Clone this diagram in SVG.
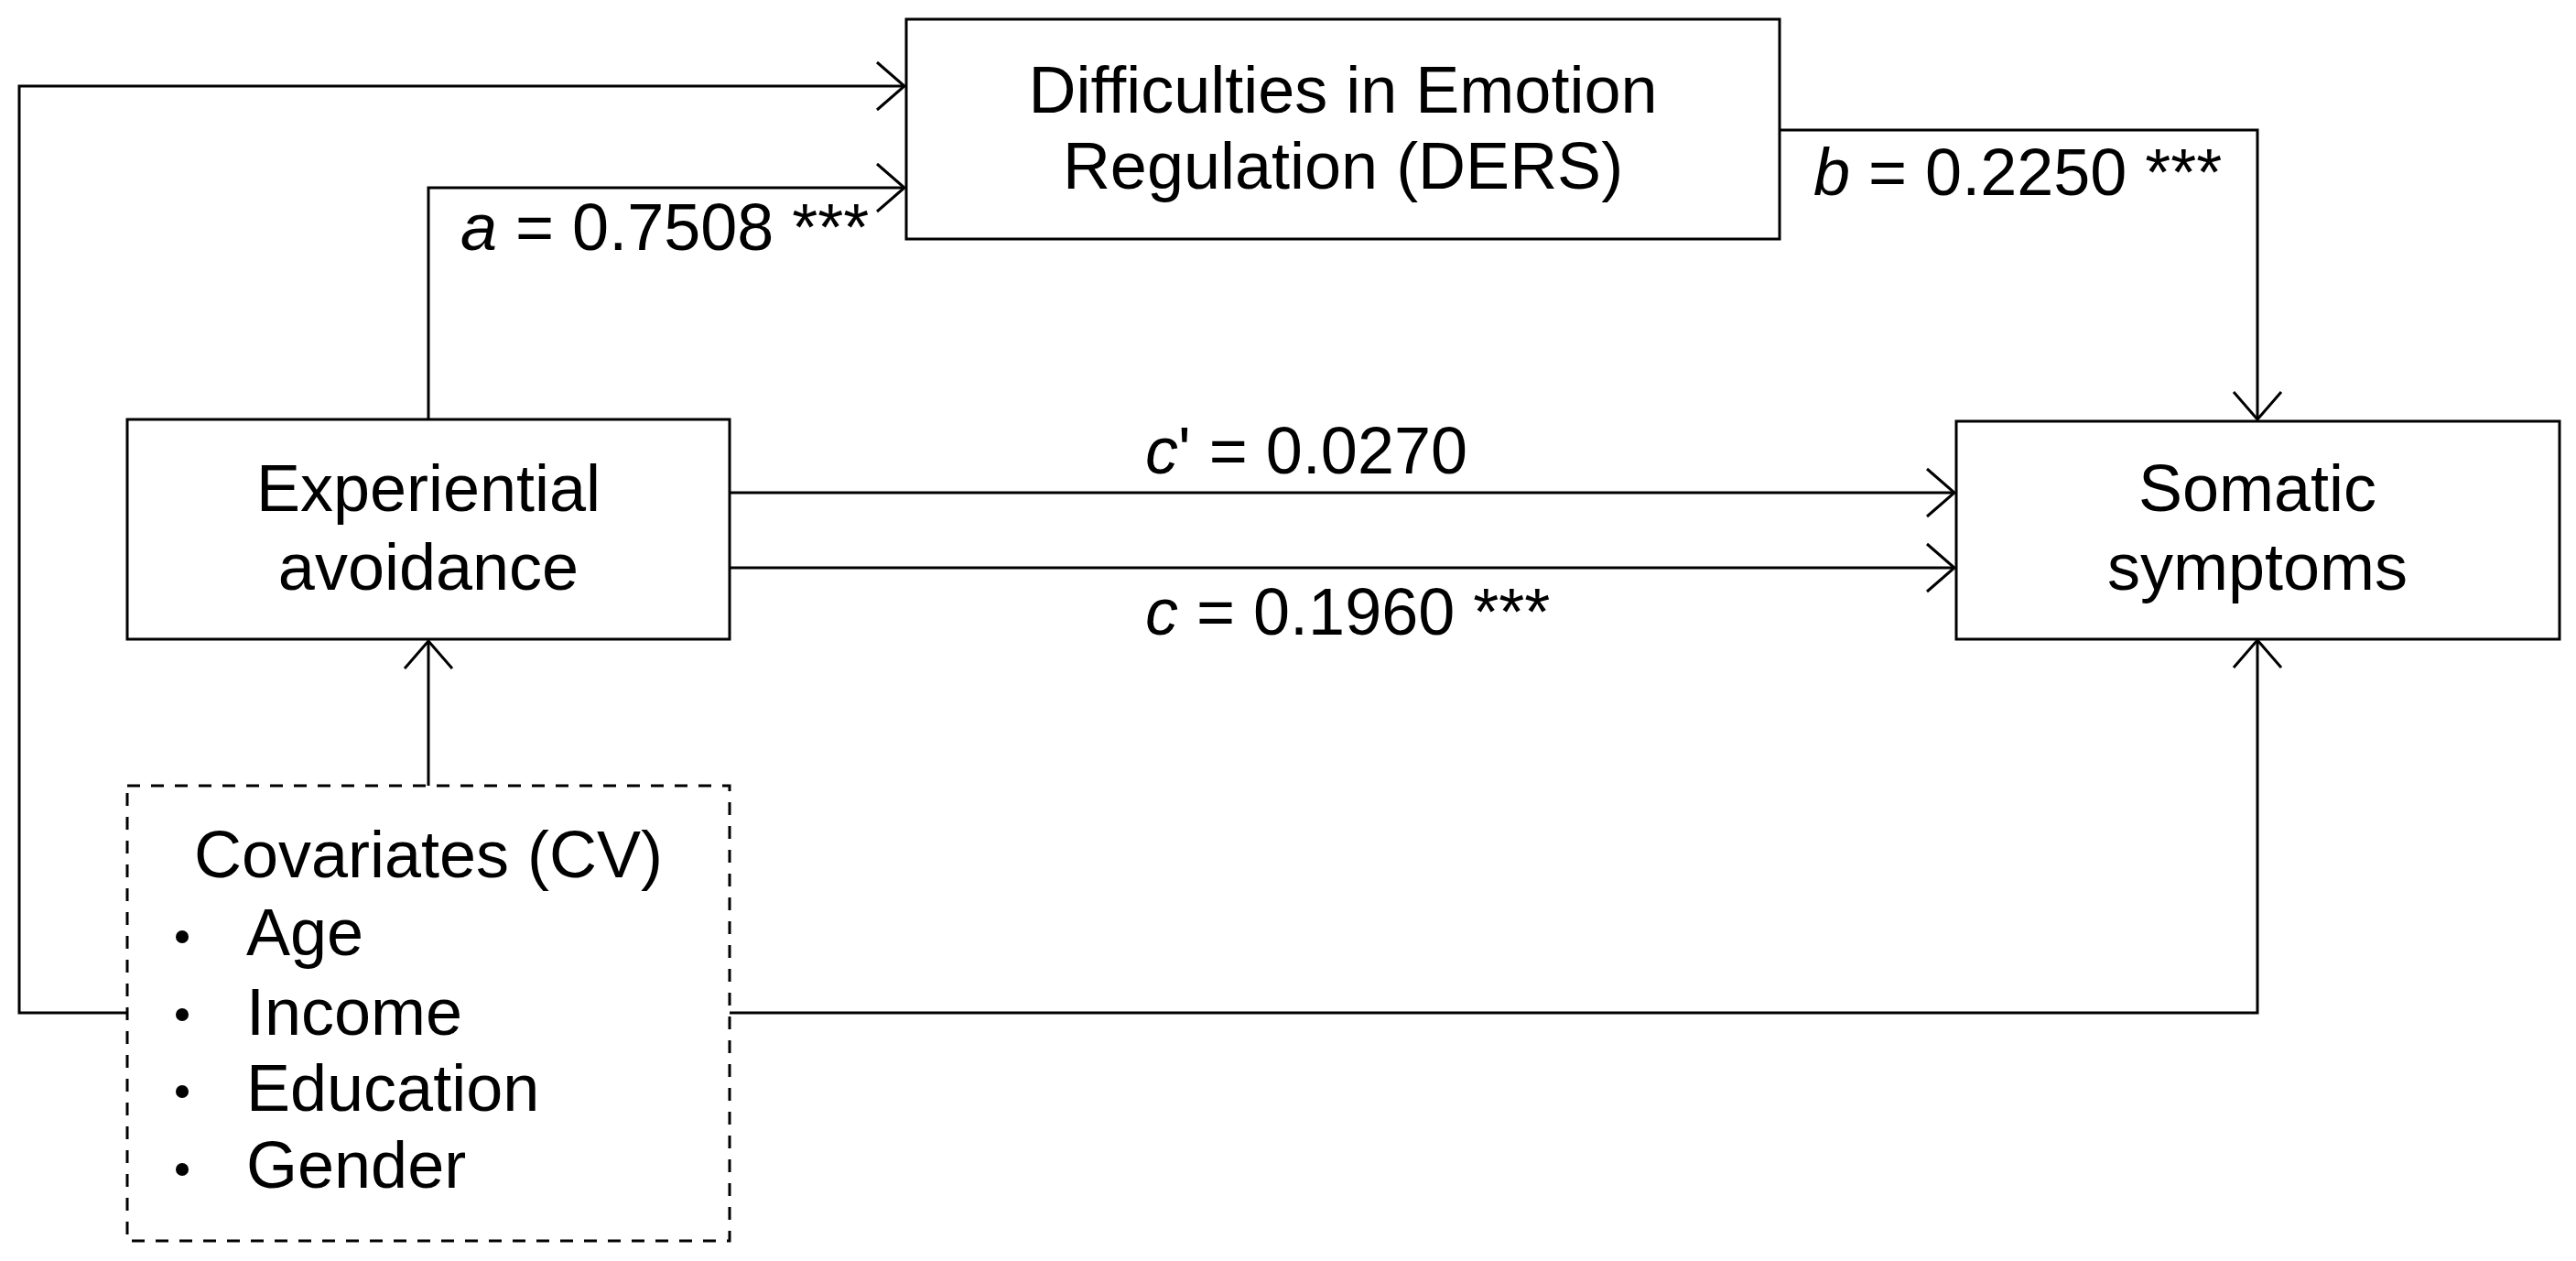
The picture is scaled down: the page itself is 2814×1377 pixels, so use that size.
<svg xmlns="http://www.w3.org/2000/svg" width="2814" height="1377" viewBox="0 0 2814 1377">
<style>
text{font-family:"Liberation Sans",Arial,sans-serif;font-size:72px;fill:#000}
.box{fill:#fff;stroke:#000;stroke-width:3}
.dash{fill:#fff;stroke:#000;stroke-width:3;stroke-dasharray:14 12}
.c{fill:none;stroke:#000;stroke-width:3;marker-end:url(#ah)}
.m{text-anchor:middle}
</style>
<defs>
<marker id="ah" viewBox="-34 -28 36 56" refX="0" refY="0" markerWidth="36" markerHeight="56" markerUnits="userSpaceOnUse" orient="auto">
<path d="M-30,-26 L0,0 L-30,26" fill="none" stroke="#000" stroke-width="3"/>
</marker>
</defs>
<g id="connectors">
<polyline class="c" points="139,1106 21,1106 21,94 988,94"/>
<polyline class="c" points="468,458 468,205 988,205"/>
<polyline class="c" points="1944,142 2466,142 2466,458"/>
<polyline class="c" points="797,538 2135,538"/>
<polyline class="c" points="797,620 2135,620"/>
<polyline class="c" points="468,858 468,700"/>
<polyline class="c" points="797,1106 2466,1106 2466,699"/>
</g>
<g id="labels">
<text x="503" y="273"><tspan font-style="italic">a</tspan> = 0.7508 ***</text>
<text x="1981" y="213"><tspan font-style="italic">b</tspan> = 0.2250 ***</text>
<text x="1251" y="517"><tspan font-style="italic">c</tspan>' = 0.0270</text>
<text x="1251" y="693"><tspan font-style="italic">c</tspan> = 0.1960 ***</text>
</g>
<g id="ders">
<rect class="box" x="990" y="21" width="954" height="240"/>
<text class="m" x="1467" y="123">Difficulties in Emotion</text>
<text class="m" x="1467" y="206">Regulation (DERS)</text>
</g>
<g id="ea">
<rect class="box" x="139" y="458" width="658" height="240"/>
<text class="m" x="468" y="558">Experiential</text>
<text class="m" x="468" y="644">avoidance</text>
</g>
<g id="somatic">
<rect class="box" x="2137" y="460" width="659" height="238"/>
<text class="m" x="2466" y="558">Somatic</text>
<text class="m" x="2466" y="644">symptoms</text>
</g>
<g id="cv">
<rect class="dash" x="139" y="858" width="658" height="497"/>
<text class="m" x="468" y="958">Covariates (CV)</text>
<circle cx="199" cy="1023" r="7"/><text x="269" y="1043">Age</text>
<circle cx="199" cy="1108" r="7"/><text x="269" y="1130">Income</text>
<circle cx="199" cy="1192" r="7"/><text x="269" y="1213">Education</text>
<circle cx="199" cy="1277" r="7"/><text x="269" y="1297">Gender</text>
</g>
</svg>
